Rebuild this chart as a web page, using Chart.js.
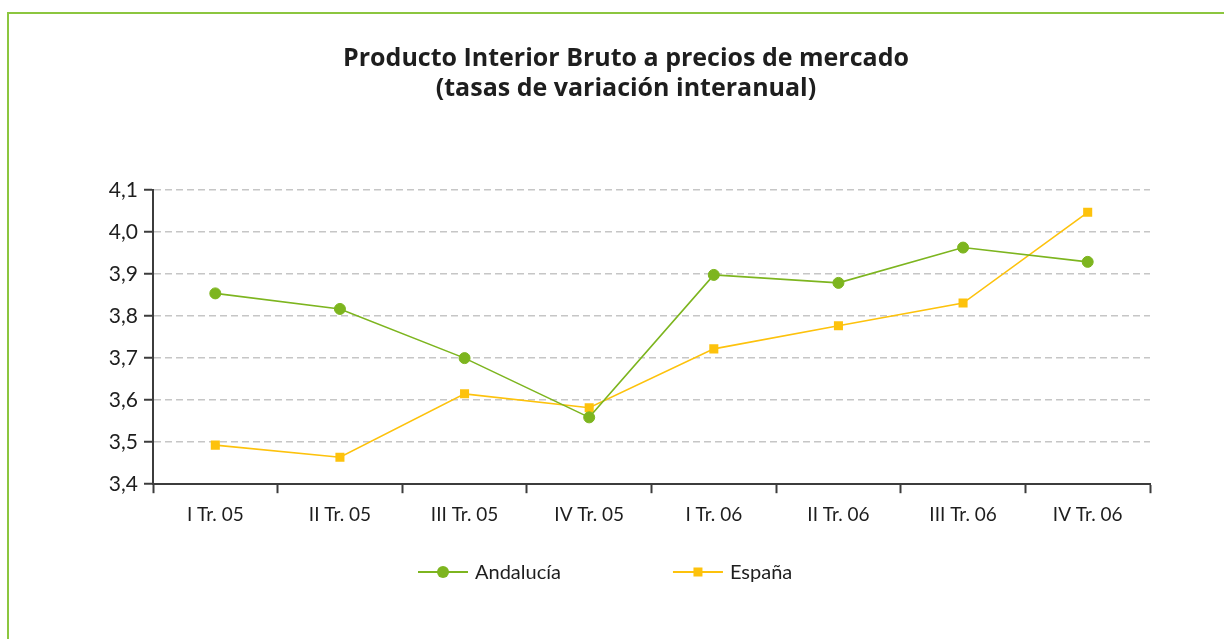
<!DOCTYPE html>
<html>
<head>
<meta charset="utf-8">
<script src="https://cdn.jsdelivr.net/npm/chart.js@4"></script>
<style>
  html, body { margin: 0; padding: 0; background: #ffffff; }
  #wrap { position: relative; width: 1224px; height: 639px; overflow: hidden; }
  #frame {
    position: absolute; left: 7px; top: 12px; right: -10px; bottom: -10px;
    border-left: 2px solid #8cc63f; border-top: 2px solid #8cc63f;
  }
  #chart { position: absolute; left: 0; top: 0; }
</style>
</head>
<body>
<div id="wrap">
  <div id="frame"></div>
  <canvas id="chart" width="1224" height="639"></canvas>
</div>
<script>
  // PIB a precios de mercado, tasas de variación interanual
  const quarters = ['I Tr. 05', 'II Tr. 05', 'III Tr. 05', 'IV Tr. 05', 'I Tr. 06', 'II Tr. 06', 'III Tr. 06', 'IV Tr. 06'];
  const andalucia = [3.854, 3.817, 3.700, 3.559, 3.898, 3.879, 3.963, 3.929];
  const espana = [3.493, 3.464, 3.615, 3.582, 3.722, 3.777, 3.831, 4.047];
  const titleLines = ['Producto Interior Bruto a precios de mercado', '(tasas de variación interanual)'];

  const colors = {
    green: '#7db51f',
    yellow: '#fdc20c',
    text: '#1e1e1e',
    axis: '#3c3c3c',
    grid: '#c6c6c6'
  };
  const fontFamily = 'Lato, "Open Sans", sans-serif';

  // legend drawn by hand: line + marker, wide gap between items
  const lineLegend = {
    id: 'lineLegend',
    afterDraw(chart) {
      const ctx = chart.ctx;
      const y = 572;
      let x = 418;
      ctx.save();
      ctx.font = '20px ' + fontFamily;
      ctx.textBaseline = 'middle';
      chart.data.datasets.forEach((ds) => {
        ctx.strokeStyle = ds.borderColor;
        ctx.lineWidth = 2;
        ctx.beginPath();
        ctx.moveTo(x, y);
        ctx.lineTo(x + 50, y);
        ctx.stroke();
        ctx.fillStyle = ds.backgroundColor;
        if (ds.pointStyle === 'rect') {
          ctx.fillRect(x + 25 - 4.5, y - 4.5, 9, 9);
        } else {
          ctx.beginPath();
          ctx.arc(x + 25, y, 6, 0, Math.PI * 2);
          ctx.fill();
        }
        ctx.fillStyle = colors.text;
        ctx.fillText(ds.label, x + 57, y + 1);
        x += 57 + ctx.measureText(ds.label).width + 112;
      });
      ctx.restore();
    }
  };

  new Chart(document.getElementById('chart'), {
    type: 'line',
    data: {
      labels: quarters,
      datasets: [
        {
          label: 'Andalucía',
          data: andalucia,
          borderColor: colors.green,
          backgroundColor: colors.green,
          borderWidth: 1.6,
          pointStyle: 'circle',
          pointRadius: 5.5,
          pointBorderWidth: 1,
          pointBackgroundColor: colors.green,
          pointBorderColor: colors.green,
          tension: 0
        },
        {
          label: 'España',
          data: espana,
          borderColor: colors.yellow,
          backgroundColor: colors.yellow,
          borderWidth: 1.6,
          pointStyle: 'rect',
          pointRadius: 6.4,
          pointBorderWidth: 0,
          pointBackgroundColor: colors.yellow,
          tension: 0
        }
      ]
    },
    options: {
      responsive: false,
      animation: false,
      layout: { padding: { left: 102, right: 74, top: 44, bottom: 103 } },
      plugins: {
        legend: { display: false },
        tooltip: { enabled: false },
        title: {
          display: true,
          text: titleLines,
          color: colors.text,
          font: { family: '"Open Sans", Lato, sans-serif', size: 25, weight: 'bold', lineHeight: '30px' },
          padding: { top: 0, bottom: 86 }
        }
      },
      scales: {
        x: {
          offset: true,
          grid: {
            offset: true,
            drawOnChartArea: false,
            tickLength: 9,
            tickWidth: 2,
            tickColor: colors.axis
          },
          border: { color: colors.axis, width: 2 },
          ticks: {
            color: colors.text,
            padding: 10,
            maxRotation: 0,
            font: { family: fontFamily, size: 19 }
          }
        },
        y: {
          min: 3.4,
          max: 4.1,
          afterFit(scale) { scale.width = 51; },
          grid: {
            color: colors.grid,
            lineWidth: 1.5,
            tickLength: 9,
            tickWidth: 2,
            tickColor: colors.axis,
            tickBorderDash: []
          },
          border: { color: colors.axis, width: 2, dash: [7, 4] },
          ticks: {
            stepSize: 0.1,
            color: colors.text,
            padding: 6,
            font: { family: fontFamily, size: 21 },
            callback: (v) => Number(v).toFixed(1).replace('.', ',')
          }
        }
      }
    },
    plugins: [lineLegend]
  });
</script>
</body>
</html>
